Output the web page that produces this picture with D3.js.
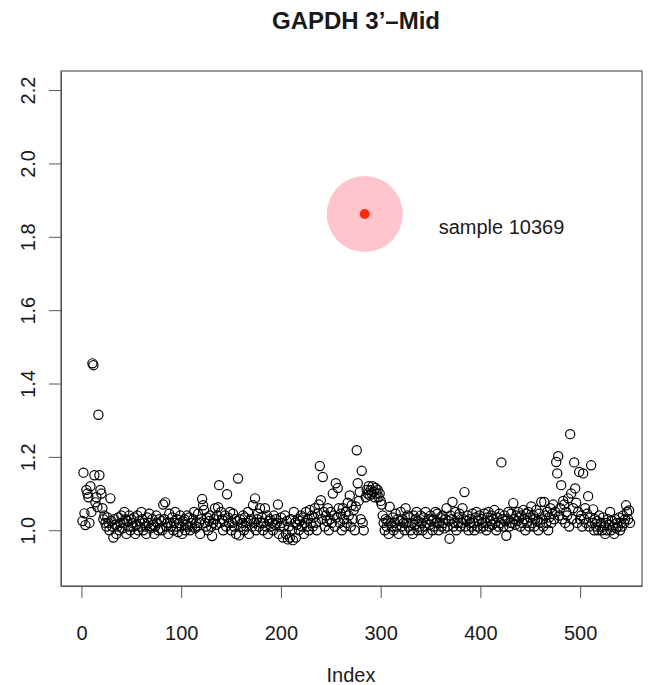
<!DOCTYPE html>
<head>
    <meta charset="utf-8">
    <style>
        body { margin: 0; background: #fff; }
        text { font-family: "Liberation Sans", Arial, Helvetica, sans-serif; fill: #1a1a1a; }
    </style>
</head>
<body>
    <!-- load the d3.js library -->
    <script src="https://d3js.org/d3.v7.min.js"></script>
    <script>

        // ratio values, one per sample, in index order (index starts at 1)
        var values = [
            1.025, 1.157, 1.046, 1.014, 1.11, 1.10, 1.09, 1.02, 1.12, 1.05,
            1.455, 1.45, 1.15, 1.076, 1.09, 1.063, 1.315, 1.15, 1.11, 1.10,
            1.06, 1.03, 1.04, 1.02, 1.01, 1.035, 1.02, 1.00, 1.087, 1.025,
            1.01, 0.98, 1.03, 1.015, 0.99, 1.01, 1.035, 1.00, 1.02, 1.04,
            1.005, 1.02, 1.05, 1.03, 0.99, 1.025, 1.01, 1.04, 1.00, 1.03,
            1.02, 1.01, 1.035, 0.99, 1.015, 1.04, 1.00, 1.025, 1.01, 1.05,
            1.03, 1.00, 1.02, 1.01, 0.99, 1.035, 1.02, 1.045, 1.005, 1.01,
            1.03, 1.015, 0.99, 1.01, 1.04, 1.02, 1.00, 1.03, 1.005, 1.025,
            1.00, 1.07, 1.03, 1.076, 1.01, 1.02, 0.99, 1.045, 1.02, 1.01,
            1.035, 1.00, 1.02, 1.05, 1.01, 1.03, 0.995, 1.02, 1.04, 1.01,
            0.99, 1.025, 1.03, 1.00, 1.015, 1.04, 1.01, 1.035, 1.00, 1.02,
            1.01, 1.03, 1.05, 1.005, 1.02, 1.01, 1.045, 1.02, 0.99, 1.03,
            1.085, 1.068, 1.055, 1.02, 1.01, 1.035, 1.00, 1.025, 1.04, 1.01,
            0.984, 1.02, 1.03, 1.06, 1.015, 1.04, 1.063, 1.123, 1.02, 1.05,
            1.03, 1.00, 1.025, 1.04, 1.01, 1.098, 1.035, 1.02, 1.05, 1.00,
            1.02, 1.045, 1.01, 1.03, 0.99, 1.025, 1.141, 0.986, 1.03, 1.01,
            1.02, 1.04, 1.00, 1.035, 1.01, 1.02, 1.05, 0.99, 1.025, 1.03,
            1.01, 1.068, 1.02, 1.087, 1.00, 1.03, 1.045, 1.01, 1.06, 1.02,
            1.035, 1.00, 1.02, 1.06, 1.01, 1.04, 0.99, 1.025, 1.03, 1.01,
            1.02, 1.00, 1.04, 1.015, 1.03, 1.02, 1.07, 0.99, 1.01, 1.035,
            1.02, 0.98, 1.01, 1.04, 0.99, 1.025, 0.975, 1.01, 0.98, 1.03,
            1.00, 0.973, 1.05, 1.02, 0.98, 1.015, 1.03, 1.00, 1.025, 1.04,
            1.01, 1.035, 0.99, 1.02, 1.05, 1.01, 1.03, 1.00, 1.055, 1.02,
            1.04, 1.01, 1.035, 1.06, 1.02, 1.00, 1.045, 1.07, 1.175, 1.082,
            1.03, 1.145, 1.05, 1.01, 1.04, 1.025, 1.06, 1.00, 1.03, 1.05,
            1.02, 1.10, 1.04, 1.01, 1.128, 1.035, 1.115, 1.06, 1.02, 1.045,
            1.00, 1.06, 1.03, 1.01, 1.05, 1.02, 1.075, 1.04, 1.095, 1.01,
            1.068, 1.03, 1.055, 1.00, 1.065, 1.218, 1.128, 1.08, 1.104, 1.03,
            1.162, 1.02, 1.00, 1.862, 1.09, 1.11, 1.10, 1.12, 1.095, 1.11,
            1.10, 1.12, 1.105, 1.09, 1.115, 1.10, 1.11, 1.09, 1.10, 1.08,
            1.07, 1.04, 1.02, 1.00, 1.03, 1.01, 1.025, 0.99, 1.064, 1.02,
            1.01, 1.035, 1.00, 1.02, 1.045, 1.01, 1.03, 0.99, 1.025, 1.05,
            1.01, 1.03, 1.02, 1.00, 1.06, 1.02, 1.04, 1.01, 1.035, 1.00,
            1.02, 0.99, 1.04, 1.015, 1.03, 1.05, 1.00, 1.025, 1.01, 1.04,
            1.02, 1.00, 1.035, 1.01, 1.05, 1.02, 0.99, 1.03, 1.015, 1.04,
            1.025, 1.00, 1.03, 1.01, 1.05, 1.02, 1.045, 1.00, 1.02, 1.035,
            1.01, 1.04, 1.02, 1.005, 1.03, 1.06, 1.01, 1.025, 0.977, 1.04,
            1.03, 1.077, 1.01, 1.02, 1.05, 1.00, 1.035, 1.02, 1.045, 1.01,
            1.02, 1.06, 1.03, 1.104, 1.01, 1.025, 1.04, 1.00, 1.03, 1.02,
            1.01, 1.045, 1.02, 1.00, 1.035, 1.05, 1.01, 1.025, 1.04, 1.005,
            1.03, 1.02, 1.01, 1.045, 1.02, 1.00, 1.035, 1.05, 1.01, 1.025,
            1.04, 1.015, 1.03, 1.055, 1.02, 1.00, 1.035, 1.01, 1.045, 1.02,
            1.185, 1.03, 1.01, 1.04, 1.025, 0.985, 1.03, 1.05, 1.01, 1.02,
            1.045, 1.02, 1.074, 1.03, 1.015, 1.04, 1.025, 1.05, 1.035, 1.01,
            1.04, 1.02, 1.055, 1.03, 1.00, 1.045, 1.02, 1.05, 1.01, 1.035,
            1.065, 1.02, 1.04, 1.01, 1.03, 1.055, 1.025, 1.00, 1.045, 1.02,
            1.077, 1.03, 1.01, 1.077, 1.04, 1.02, 1.05, 1.00, 1.035, 1.06,
            1.02, 1.045, 1.07, 1.03, 1.05, 1.186, 1.155, 1.202, 1.04, 1.06,
            1.123, 1.03, 1.08, 1.07, 1.02, 1.05, 1.04, 1.087, 1.01, 1.262,
            1.10, 1.03, 1.06, 1.185, 1.114, 1.075, 1.02, 1.05, 1.159, 1.03,
            1.04, 1.01, 1.155, 1.03, 1.06, 1.02, 1.045, 1.093, 1.01, 1.035,
            1.177, 1.02, 1.057, 1.00, 1.03, 1.01, 1.025, 1.00, 1.04, 1.01,
            1.02, 1.00, 1.035, 1.01, 0.99, 1.02, 1.00, 1.03, 1.015, 1.05,
            1.00, 1.025, 1.01, 0.99, 1.03, 1.005, 1.02, 1.01, 1.035, 1.00,
            1.02, 1.01, 1.04, 1.02, 1.03, 1.068, 1.05, 1.03, 1.054, 1.02
        ];

        // highlighted sample
        var highlightIndex = 284;
        var highlightLabel = "sample 10369";

        // tick labels
        var xTicks = [0, 100, 200, 300, 400, 500];
        var yTicks = [1.0, 1.2, 1.4, 1.6, 1.8, 2.0, 2.2];

        var titleText = "GAPDH 3\u2019\u2013Mid";
        var xLabel = "Index";

        var data = values.map(function(v, i) { return {index: i + 1, value: v}; });

        // plot box
        var box = {left: 61, right: 642, top: 71, bottom: 586};

        var x = d3.scaleLinear().domain([-20.5, 562]).range([box.left, box.right]);
        var y = d3.scaleLinear().domain([0.848, 2.252]).range([box.bottom, box.top]);

        var svg = d3.select("body")
            .append("svg")
            .attr("width", 654)
            .attr("height", 685);

        svg.append("rect")
            .attr("width", 654)
            .attr("height", 685)
            .attr("fill", "#fff");

        // title
        svg.append("text")
            .attr("x", 356)
            .attr("y", 29)
            .attr("text-anchor", "middle")
            .style("font-size", "24px")
            .style("font-weight", "bold")
            .text(titleText);

        // the X axis
        var xAxis = svg.append("g")
            .attr("transform", "translate(0," + box.bottom + ")")
            .call(d3.axisBottom(x).tickValues(xTicks).tickSize(12).tickPadding(30).tickSizeOuter(0));
        xAxis.select(".domain").attr("stroke", "#555");
        xAxis.selectAll(".tick line").attr("stroke", "#555");
        xAxis.selectAll(".tick text")
            .attr("y", 54)
            .attr("dy", null)
            .style("font-size", "20px")
            .attr("fill", "#1a1a1a")
            .style("font-family", "'Liberation Sans', Arial, sans-serif");

        // the Y axis, labels turned like R does
        var yAxis = svg.append("g")
            .attr("transform", "translate(" + box.left + ",0)")
            .call(d3.axisLeft(y).tickValues(yTicks).tickFormat(d3.format(".1f")).tickSize(12).tickSizeOuter(0));
        yAxis.select(".domain").attr("stroke", "#555");
        yAxis.selectAll(".tick line").attr("stroke", "#555");
        yAxis.selectAll(".tick text")
            .attr("x", null)
            .attr("dy", null)
            .attr("transform", "translate(-26,0) rotate(-90)")
            .attr("text-anchor", "middle")
            .attr("y", 0)
            .style("font-size", "20px")
            .attr("fill", "#1a1a1a")
            .style("font-family", "'Liberation Sans', Arial, sans-serif");

        // x label
        svg.append("text")
            .attr("x", 351)
            .attr("y", 682)
            .attr("text-anchor", "middle")
            .style("font-size", "20px")
            .text(xLabel);

        // the points, open circles
        svg.append("g")
            .selectAll("circle")
            .data(data)
            .enter().append("circle")
            .attr("cx", function(d) { return x(d.index); })
            .attr("cy", function(d) { return y(d.value); })
            .attr("r", 4.6)
            .attr("fill", "none")
            .attr("stroke", "#000")
            .attr("stroke-width", 1.2);

        // highlight for the odd sample
        var hi = data[highlightIndex - 1];
        svg.append("circle")
            .attr("cx", x(hi.index))
            .attr("cy", y(hi.value))
            .attr("r", 38)
            .attr("fill", "#ffc4cc");
        svg.append("circle")
            .attr("cx", x(hi.index))
            .attr("cy", y(hi.value))
            .attr("r", 5)
            .attr("fill", "#ff2a0a");
        svg.append("text")
            .attr("x", x(hi.index) + 74)
            .attr("y", y(hi.value) + 20)
            .style("font-size", "20px")
            .text(highlightLabel);

        // box around the plot
        svg.append("rect")
            .attr("x", box.left)
            .attr("y", box.top)
            .attr("width", box.right - box.left)
            .attr("height", box.bottom - box.top)
            .attr("fill", "none")
            .attr("stroke", "#555")
            .attr("stroke-width", 1.2);

    </script>
</body>
